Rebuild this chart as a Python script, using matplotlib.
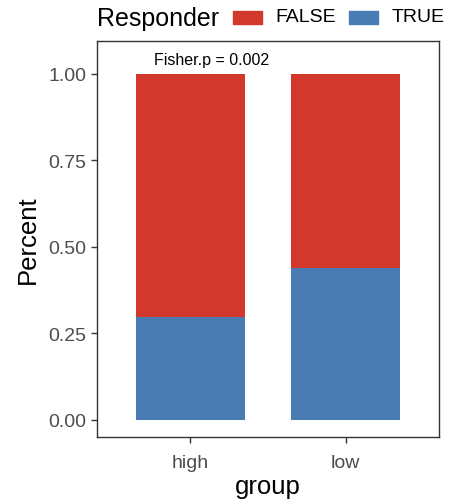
import matplotlib.pyplot as plt
from matplotlib.patches import Rectangle

plt.rcParams['font.family'] = ['Liberation Sans', 'DejaVu Sans']

groups = ['high', 'low']
true_pct = [0.297, 0.44]
false_pct = [1 - v for v in true_pct]
levels = ['FALSE', 'TRUE']
colors = {'FALSE': '#D3382D', 'TRUE': '#4A7CB4'}
fisher_label = 'Fisher.p = 0.002'

fig = plt.figure(figsize=(4.58, 5.02), dpi=100)
ax = fig.add_axes([0.2118, 0.1269, 0.7461, 0.7901])

x = range(len(groups))
ax.bar(x, true_pct, width=0.7, color=colors['TRUE'])
ax.bar(x, false_pct, width=0.7, bottom=true_pct, color=colors['FALSE'])

ax.text(0.14, 1.04, fisher_label, ha='center', va='center', fontsize=11.5, color='black')

ax.set_xlim(-0.6, 1.6)
ax.set_ylim(-0.05, 1.095)
ax.set_xticks(list(x))
ax.set_xticklabels(groups)
ax.set_yticks([0, 0.25, 0.5, 0.75, 1.0])
ax.set_yticklabels(['0.00', '0.25', '0.50', '0.75', '1.00'])
ax.tick_params(axis='both', labelsize=14, labelcolor='#4d4d4d', color='#333333',
               length=4, width=1)
ax.tick_params(axis='x', pad=8)
for s in ax.spines.values():
    s.set_color('#333333')
    s.set_linewidth(1)
ax.set_xlabel('group', fontsize=18.5, labelpad=2)
ax.set_ylabel('Percent', fontsize=18.5, labelpad=6)

# legend on top, drawn by hand so the title sits to the left of the keys
W, H = 458, 502
fig.text(97 / W, 1 - 19 / H, 'Responder', fontsize=18, va='center', ha='left')
keys = [(233, 'FALSE', 275), (349, 'TRUE', 392)]
for kx, lab, tx in keys:
    fig.patches.append(Rectangle((kx / W, 1 - 25 / H), 29 / W, 13 / H,
                                 transform=fig.transFigure, color=colors[lab]))
    fig.text(tx / W, 1 - 18 / H, lab, fontsize=14, va='center', ha='left')

fig.savefig('out.png', dpi=100)
